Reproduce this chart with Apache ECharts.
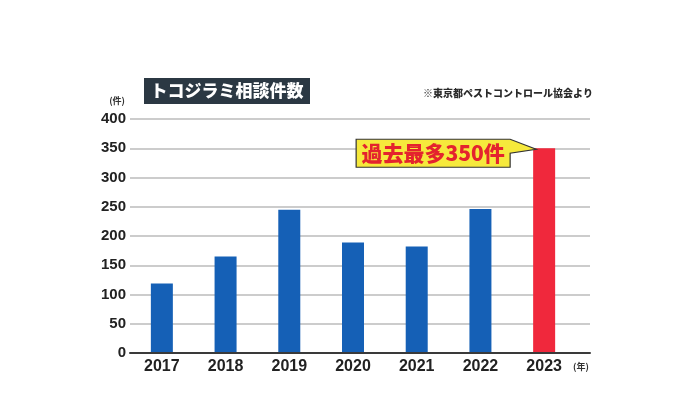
<!DOCTYPE html>
<html><head><meta charset="utf-8">
<script src="https://cdn.jsdelivr.net/npm/echarts@6/dist/echarts.min.js"></script>
<style>html,body{margin:0;padding:0;background:#fff}#c{width:700px;height:393px}</style>
</head><body><div id="c"></div>
<script>
const years = ['2017','2018','2019','2020','2021','2022','2023'];
const counts = [119, 165, 245, 189, 182, 246, 350];
const barColors = ['#1560b6','#1560b6','#1560b6','#1560b6','#1560b6','#1560b6','#f0283c'];
const yTicks = {min: 0, max: 400, interval: 50};
const titleText = 'トコジラミ相談件数';
const sourceText = '※東京都ペストコントロール協会より';
const calloutText = '過去最多350件';

const NUM = '"Liberation Sans", Arial, sans-serif';
const JP = '"Noto Sans CJK JP", sans-serif';

const chart = echarts.init(document.getElementById('c'), null, {renderer: 'canvas'});
const gTop = 119, gH = 234;
chart.setOption({
  animation: false,
  backgroundColor: '#fff',
  grid: [
    {left: 130, top: gTop, width: 446, height: gH},
    {left: 130, top: gTop, right: 110, height: gH}
  ],
  xAxis: [
    {gridIndex: 0, type: 'category', data: years,
     axisLine: {show: false}, axisTick: {show: false},
     axisLabel: {color: '#222', fontFamily: NUM, fontWeight: 'bold', fontSize: 16, margin: 6}},
    {gridIndex: 1, type: 'category', data: [''],
     axisLine: {show: true, lineStyle: {color: '#3a3a3a', width: 2}},
     axisTick: {show: false}, axisLabel: {show: false}, z: 5}
  ],
  yAxis: [
    {gridIndex: 1, type: 'value', min: yTicks.min, max: yTicks.max, interval: yTicks.interval,
     axisLine: {show: false}, axisTick: {show: false},
     splitLine: {lineStyle: {color: '#cccccc', width: 2}},
     axisLabel: {color: '#222', fontFamily: NUM, fontWeight: 'bold', fontSize: 15, margin: 4}},
    {gridIndex: 0, type: 'value', min: yTicks.min, max: yTicks.max, interval: yTicks.interval,
     show: false, splitLine: {show: false}}
  ],
  series: [{
    type: 'bar', xAxisIndex: 0, yAxisIndex: 1, barWidth: 22, z: 3,
    data: counts.map((v, i) => ({value: v, itemStyle: {color: barColors[i]}}))
  }]
});

const p = chart.convertToPixel({xAxisIndex: 0, yAxisIndex: 1}, [years[6], counts[6]]);
const bx = p[0], by = p[1];
chart.setOption({
  graphic: [
    {type: 'rect', shape: {x: 144, y: 78, width: 166, height: 26}, style: {fill: '#2b3843'}},
    {type: 'text', x: 227, y: 91, style: {text: titleText, fill: '#fff', font: '900 17px ' + JP, align: 'center', verticalAlign: 'middle'}},
    {type: 'text', x: 125, y: 101, style: {text: '(件)', fill: '#333', font: 'bold 9px ' + JP, align: 'right', verticalAlign: 'middle'}},
    {type: 'text', x: 573, y: 367, style: {text: '(年)', fill: '#333', font: 'bold 9px ' + JP, align: 'left', verticalAlign: 'middle'}},
    {type: 'text', x: 593, y: 93, style: {text: sourceText, fill: '#2a2a2a', font: '900 10px ' + JP, align: 'right', verticalAlign: 'middle'}},
    {type: 'polygon', z: 10, shape: {points: [
      [bx - 188, by - 9], [bx - 34, by - 9], [bx - 8, by + 1], [bx - 34, by + 5],
      [bx - 34, by + 19], [bx - 188, by + 19]]},
     style: {fill: '#f6e93c', stroke: '#333', lineWidth: 1.2}},
    {type: 'text', z: 11, x: bx - 111, y: by + 5, style: {text: calloutText, fill: '#e4232e', font: '900 21px ' + JP, align: 'center', verticalAlign: 'middle'}}
  ]
});
</script></body></html>
